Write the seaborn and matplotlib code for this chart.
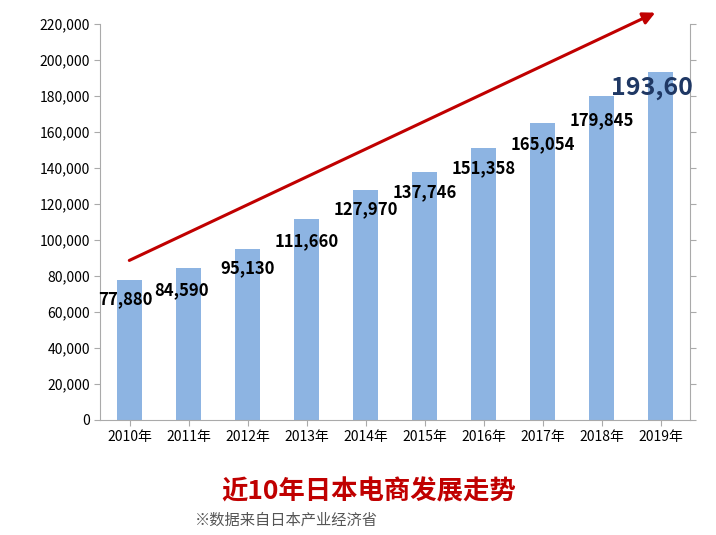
import matplotlib
matplotlib.use("Agg")
import matplotlib.pyplot as plt
import seaborn as sns
import pandas as pd

years = ["2010年","2011年","2012年","2013年","2014年","2015年","2016年","2017年","2018年","2019年"]
values = [77880, 84590, 95130, 111660, 127970, 137746, 151358, 165054, 179845, 193609]
labels = ["77,880","84,590","95,130","111,660","127,970","137,746","151,358","165,054","179,845","193,60"]

plt.rcParams["font.family"] = ["Noto Sans CJK SC"]
fig = plt.figure(figsize=(7.16, 5.35), dpi=100)
ax = fig.add_axes([0.14, 0.215, 0.824, 0.74])
df = pd.DataFrame({"year": years, "value": values})
sns.barplot(data=df, x="year", y="value", color="#8DB4E2", saturation=1, width=0.42, ax=ax)
ax.set_ylim(0, 220000)
ax.set_yticks(range(0, 220001, 20000))
ax.set_yticklabels([f"{v:,}" for v in range(0, 220001, 20000)], fontsize=10)
ax.set_xticklabels(years, fontsize=10)
ax.set_xlabel(""); ax.set_ylabel("")
ax.tick_params(axis="y", right=True, length=4, color="#aaaaaa")
ax.tick_params(axis="x", length=4, color="#aaaaaa")
ax.spines["top"].set_visible(False)
for s in ["left", "bottom", "right"]:
    ax.spines[s].set_color("#aaaaaa")

offsets = [-0.08, -0.12, 0, 0, 0, 0, 0, 0, 0, -0.15]
drops = [11000, 12500, 11000, 12500, 11000, 11000, 11500, 12000, 13500, 9000]
for i, (v, lab) in enumerate(zip(values, labels)):
    if i == len(values) - 1:
        ax.text(i + offsets[i], v - drops[i], lab, ha="center", va="center",
                fontsize=18, fontweight="bold", color="#1F3864", clip_on=False)
    else:
        ax.text(i + offsets[i], v - drops[i], lab, ha="center", va="center",
                fontsize=12, fontweight="bold", color="black")

ax.annotate("", xy=(8.95, 227000), xytext=(-0.05, 88000),
            arrowprops=dict(arrowstyle="-|>", color="#C00000", lw=2.2, mutation_scale=18),
            annotation_clip=False)

fig.text(0.515, 0.08, "近10年日本电商发展走势", ha="center", va="center",
         fontsize=19, fontweight="bold", color="#C00000")
fig.text(0.272, 0.028, "※数据来自日本产业经济省", ha="left", va="center",
         fontsize=11, color="#555555")
fig.savefig("out.png", dpi=100)
